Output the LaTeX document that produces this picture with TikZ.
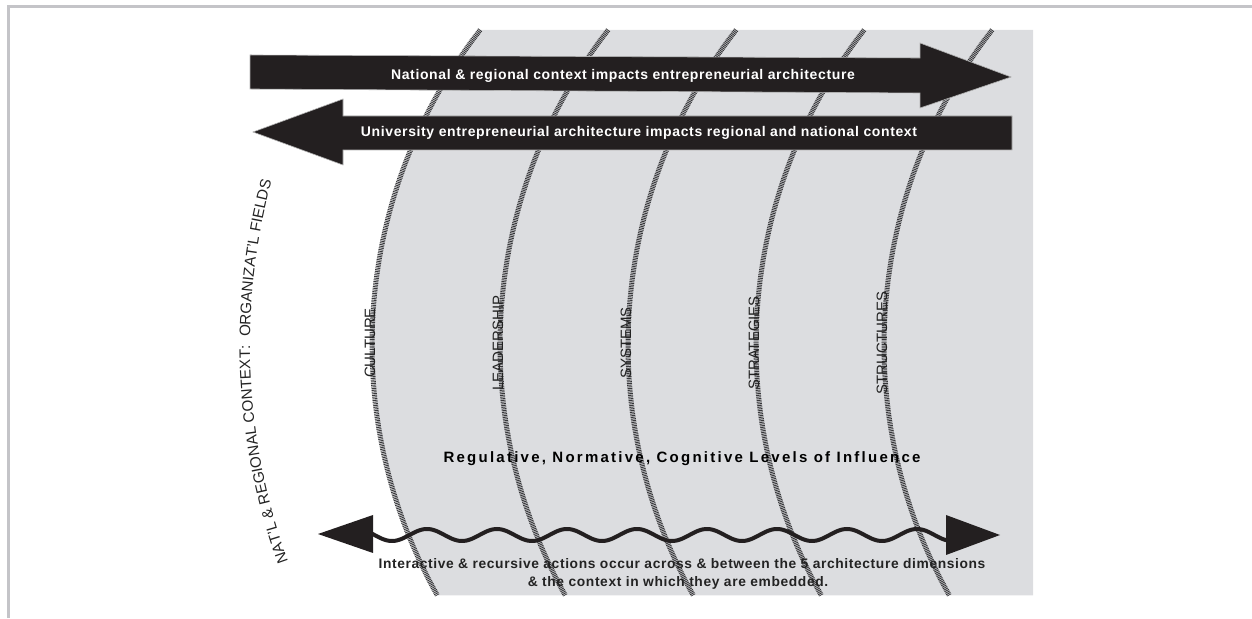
\documentclass[tikz,border=0pt]{standalone}
\usepackage{fontspec}
\setmainfont{Liberation Sans}
\newfontfamily\arrowfont[LetterSpace=4.5]{Liberation Sans}
\newfontfamily\levelfont[LetterSpace=15]{Liberation Sans}
\usetikzlibrary{decorations.text}
\definecolor{framegray}{RGB}{196,196,200}
\definecolor{bggray}{RGB}{220,221,224}
\definecolor{arrowblack}{RGB}{35,31,32}
\definecolor{hatchgray}{RGB}{55,55,58}
\definecolor{textdark}{RGB}{35,35,35}
\tikzset{
  frameline/.style={draw=framegray, line width=2.5},
  bigarrow/.style={fill=arrowblack, draw=gray!60, line width=0.6},
  hatchline/.style={draw=hatchgray, line width=5, dash pattern=on 0.9pt off 0.8pt},
  arrowtext/.style={text=white, inner sep=0, anchor=base, font=\arrowfont\bfseries\fontsize{14}{16}\selectfont},
  dimlabel/.style={rotate=90, anchor=base, inner sep=0, text=textdark, font=\fontsize{15}{18}\selectfont},
  bottomtext/.style={text=textdark, inner sep=0, anchor=base, font=\arrowfont\bfseries\fontsize{13.8}{16}\selectfont},
  wave/.style={draw=arrowblack, line width=4},
  headfill/.style={fill=arrowblack}
}
\begin{document}
\begin{tikzpicture}[x=1pt,y=1pt]
\useasboundingbox (0,0) rectangle (1252,618);
% frame
\draw[frameline] (8.5,0) -- (8.5,611.5) -- (1252,611.5);
% gray field bounded by first arc
\fill[bggray] (1033,588.1) -- (480.2,588.1) arc[start angle=142.1, end angle=209.2, radius=513pt] -- (1033,22.7) -- cycle;
% hatched arcs
\foreach \cx in {885,1013,1141,1269,1397}
  \draw[hatchline] (\cx,273) ++(142.1:513pt) arc[start angle=142.1, end angle=209.2, radius=513pt];
% big arrows
\fill[bigarrow] (250,563) -- (920,560) -- (920,575) -- (1011,541) -- (920,510) -- (920,525) -- (250,529) -- cycle;
\fill[bigarrow] (253,486) -- (343,519) -- (343,502) -- (1012,502) -- (1012,468) -- (343,468) -- (343,453) -- cycle;
\node[arrowtext] (natl) at (623,538.5) {National \& regional context impacts entrepreneurial architecture};
\node[arrowtext] (univ) at (639,481) {University entrepreneurial architecture impacts regional and national context};
% dimension labels
\node[dimlabel] (culture) at (375,275) {CULTURE};
\node[dimlabel] (leadership) at (503,275) {LEADERSHIP};
\node[dimlabel] (systems) at (631,275) {SYSTEMS};
\node[dimlabel] (strategies) at (759,275) {STRATEGIES};
\node[dimlabel] (structures) at (887,275) {STRUCTURES};
% levels
\node[text=black, inner sep=0, anchor=base, font=\levelfont\bfseries\fontsize{15}{18}\selectfont] (levels) at (682,155) {Regulative, Normative, Cognitive Levels of Influence};
% wavy double arrow
\draw[wave] plot[domain=372:947, samples=300, smooth] (\x, {83+6*cos((\x-427)*5.142857)});
\fill[headfill] (318,84) -- (373,103) -- (373,65) -- cycle;
\fill[headfill] (1000,83) -- (946,103) -- (946,63) -- cycle;
% bottom text
\node[bottomtext] (inter1) at (682,49) {Interactive \& recursive actions occur across \& between the 5 architecture dimensions};
\node[bottomtext] (inter2) at (678,31) {\& the context in which they are embedded.};
% curved context text
\path[decorate, decoration={text along path, text align=center,
  text={|\fontsize{15.2}{18}\selectfont\color{textdark}|NAT’L {\&} REGIONAL CONTEXT:{\ }{\ }ORGANIZAT’L FIELDS}}]
  (885,273) ++(217.5:635pt) arc[start angle=217.5, end angle=147.5, radius=635pt];
\end{tikzpicture}
\end{document}
